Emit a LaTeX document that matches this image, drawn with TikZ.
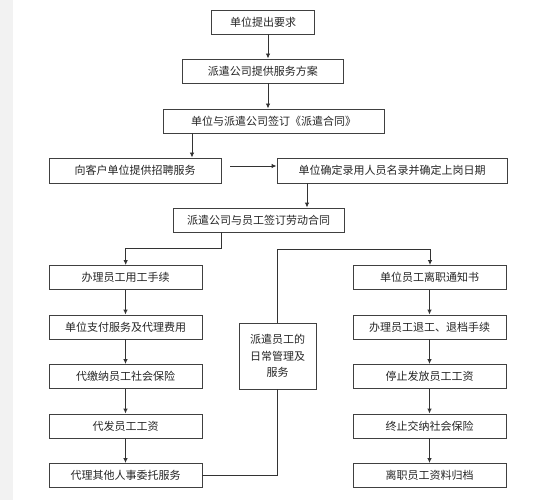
\documentclass[tikz,border=0pt]{standalone}
\usepackage{fontspec}
\newfontfamily\cjk{Noto Sans CJK SC}
\usetikzlibrary{arrows.meta,calc}
\begin{document}
\begin{tikzpicture}[x=1pt,y=-1pt,
  box/.style={draw=black!75,line width=0.9pt,inner sep=0pt,minimum height=24,
    text=black!85,font={\cjk\fontsize{11}{16.5}\selectfont},align=center},
  link/.style={draw=black!80,line width=0.9pt},
  arr/.style={link,-{Latex[length=5pt,width=4.5pt]}}]
\useasboundingbox (0,0) rectangle (541,500);
\fill[white] (0,0) rectangle (541,500);
\fill[black!5] (0,0) rectangle (12.7,500);
% top chain
\node[box,minimum width=103] (b1) at (263,22) {单位提出要求};
\node[box,minimum width=161] (b2) at (262.8,71) {派遣公司提供服务方案};
\node[box,minimum width=221] (b3) at (273.5,121) {单位与派遣公司签订《派遣合同》};
\node[box,minimum width=172,minimum height=25] (b4) at (135,170.5) {向客户单位提供招聘服务};
\node[box,minimum width=230,minimum height=25] (b5) at (392,170.5) {单位确定录用人员名录并确定上岗日期};
\node[box,minimum width=171] (b6) at (258.5,220) {派遣公司与员工签订劳动合同};
% middle
\node[box,minimum width=77,minimum height=66] (m) at (277.5,356) {派遣员工的\\日常管理及\\服务};
% left column
\node[box,minimum width=153] (l1) at (125.5,277.5) {办理员工用工手续};
\node[box,minimum width=153] (l2) at (125.5,327) {单位支付服务及代理费用};
\node[box,minimum width=153] (l3) at (125.5,376.5) {代缴纳员工社会保险};
\node[box,minimum width=153] (l4) at (125.5,426) {代发员工工资};
\node[box,minimum width=153] (l5) at (125.5,475.5) {代理其他人事委托服务};
% right column
\node[box,minimum width=153] (r1) at (429.5,277.5) {单位员工离职通知书};
\node[box,minimum width=153] (r2) at (429.5,327) {办理员工退工、退档手续};
\node[box,minimum width=153] (r3) at (429.5,376.5) {停止发放员工工资};
\node[box,minimum width=153] (r4) at (429.5,426) {终止交纳社会保险};
\node[box,minimum width=153] (r5) at (429.5,475.5) {离职员工资料归档};
% helper coordinates
\coordinate (ax) at (268,0);
\coordinate (bx) at (192,0);
\coordinate (cx) at (307,0);
\coordinate (dx) at (221,248);
\coordinate (lx) at (125.7,248);
\coordinate (jn) at (277.5,249);
\coordinate (rx) at (430,249);
\coordinate (hs) at (230,166);
\coordinate (mb) at (277.5,475.5);
% connectors
\draw[arr] (b1.south -| ax) -- (b2.north -| ax);
\draw[arr] (b2.south -| ax) -- (b3.north -| ax);
\draw[arr] (b3.south -| bx) -- (b4.north -| bx);
\draw[arr] (hs) -- (hs -| b5.west);
\draw[arr] (b5.south -| cx) -- (b6.north -| cx);
\draw[arr] (b6.south -| dx) -- (dx) -- (lx) -- (l1.north -| lx);
\draw[arr] (jn) -- (rx) -- (r1.north -| rx);
\draw[link] (jn) -- (m.north);
\draw[link] (m.south) -- (mb) -- (l5.east);
\draw[arr] (l1) -- (l2);
\draw[arr] (l2) -- (l3);
\draw[arr] (l3) -- (l4);
\draw[arr] (l4) -- (l5);
\draw[arr] (r1) -- (r2);
\draw[arr] (r2) -- (r3);
\draw[arr] (r3) -- (r4);
\draw[arr] (r4) -- (r5);
\end{tikzpicture}
\end{document}
